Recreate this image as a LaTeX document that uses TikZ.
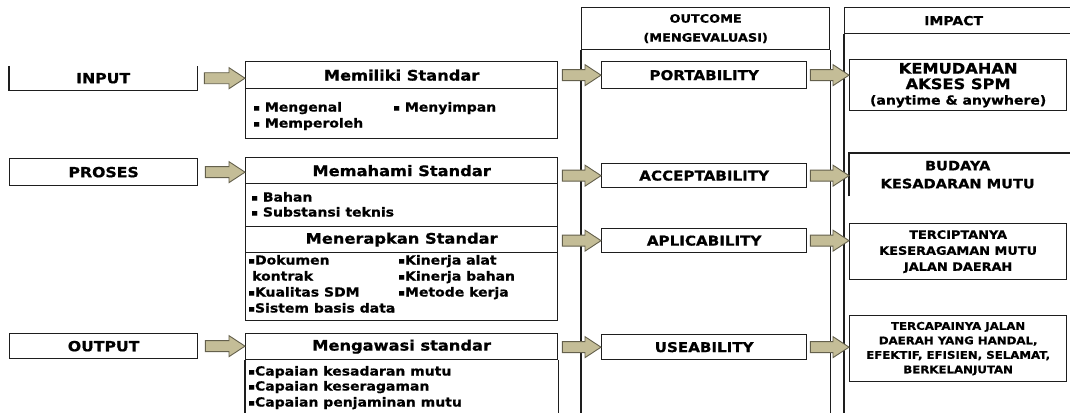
\documentclass[tikz,border=0pt]{standalone}
\usepackage{fontspec}
\setmainfont{DejaVu Sans}[FakeStretch=1.12, BoldFeatures={FakeBold=0.8}]
\usetikzlibrary{calc}
\definecolor{arrfill}{RGB}{196,189,151}
\definecolor{arredge}{RGB}{100,96,76}
\definecolor{ln}{RGB}{30,30,30}
\newcommand\sqb{{\fontsize{9}{9}\selectfont\raisebox{0.8pt}{▪}}}
\begin{document}
\begin{tikzpicture}[x=1pt,y=-1pt,
  box/.style={draw=ln, line width=1.3pt, inner sep=0pt, anchor=north west},
  nobox/.style={inner sep=0pt, anchor=north west},
  hdr/.style={font=\fontsize{14.5}{17}\selectfont\bfseries},
  lbl/.style={font=\fontsize{14}{17}\selectfont\bfseries},
  qual/.style={font=\fontsize{13.5}{16}\selectfont\bfseries},
  item/.style={inner sep=0pt, anchor=base west, font=\fontsize{12.5}{15}\selectfont\bfseries},
  barrow/.style={draw=arredge, fill=arrfill, line width=0.9pt, line join=miter,
    to path={let \p1=(\tikztostart), \p2=(\tikztotarget) in
      (\x1,\y1+5.5pt) -- (\x2-16pt,\y1+5.5pt) -- (\x2-16pt,\y1+10.5pt) -- (\x2,\y1)
      -- (\x2-16pt,\y1-10.5pt) -- (\x2-16pt,\y1-5.5pt) -- (\x1,\y1-5.5pt) -- cycle}}
]
\useasboundingbox (0,0) rectangle (1070,412);
\fill[white] (0,0) rectangle (1070,412);

% ---------- column frames ----------
\node[box, minimum width=248pt, minimum height=42pt, align=center,
      font=\fontsize{11.5}{19}\selectfont\bfseries] (outhead) at (581,7) {OUTCOME\\(MENGEVALUASI)};
\draw[ln, line width=1.3pt] (outhead.south west) -- ++(0,370);
\draw[ln, line width=1.3pt] (outhead.south east) -- ++(0,370);
\node[box, minimum width=230pt, minimum height=26pt,
      font=\fontsize{12.5}{15}\selectfont\bfseries] (imphead) at (844,7) {\hspace*{-12pt}IMPACT};
\draw[ln, line width=1.3pt] (imphead.south west) -- ++(0,385);

% ---------- left labels ----------
\node[nobox, lbl, minimum width=188pt, minimum height=24pt] (inbox) at (9,66) {INPUT};
\draw[ln, line width=1.3pt] (inbox.north west) -- (inbox.south west) -- (inbox.south east) -- (inbox.north east);
\node[box, lbl, minimum width=188pt, minimum height=27pt] (probox) at (9,158) {PROSES};
\node[box, lbl, minimum width=188pt, minimum height=25pt] (outbox) at (9,333) {OUTPUT};

% ---------- middle boxes ----------
\node[box, hdr, minimum width=312pt, minimum height=27pt] (memhead) at (245,61) {Memiliki Standar};
\node[box, minimum width=312pt, minimum height=50pt] (memitems) at (245,88) {};
\node[item] (m1) at (253,111.5) {\sqb\ Mengenal};
\node[item] (m2) at (253,127.5) {\sqb\ Memperoleh};
\node[item] (m3) at (393,111.5) {\sqb\ Menyimpan};

\node[box, hdr, minimum width=312pt, minimum height=26pt] (mmhead) at (245,157) {Memahami Standar};
\node[box, minimum width=312pt, minimum height=43pt] (mmitems) at (245,183) {};
\node[item] (b1) at (251,201.5) {\sqb\ Bahan};
\node[item] (b2) at (251,216.5) {\sqb\ Substansi teknis};

\node[box, hdr, minimum width=312pt, minimum height=26pt] (mrhead) at (245,226) {Menerapkan Standar};
\node[box, minimum width=312pt, minimum height=68pt] (mritems) at (245,252) {};
\node[item] (r1) at (248,264.5) {\sqb Dokumen};
\node[item] (r2) at (252,280.5) {kontrak};
\node[item] (r3) at (248,296.5) {\sqb Kualitas SDM};
\node[item] (r4) at (248,312.5) {\sqb Sistem basis data};
\node[item] (r5) at (398,264.5) {\sqb Kinerja alat};
\node[item] (r6) at (398,280.5) {\sqb Kinerja bahan};
\node[item] (r7) at (398,296.5) {\sqb Metode kerja};

\node[box, hdr, minimum width=312pt, minimum height=26pt] (mwhead) at (245,333) {Mengawasi standar};
\draw[ln, line width=1.3pt] (mwhead.south west) -- ++(0,60);
\draw[ln, line width=1.3pt] (mwhead.south east) -- ++(0,60);
\node[item] (w1) at (248,375.5) {\sqb Capaian kesadaran mutu};
\node[item] (w2) at (248,390.5) {\sqb Capaian keseragaman};
\node[item] (w3) at (248,406.5) {\sqb Capaian penjaminan mutu};

% ---------- outcome boxes ----------
\node[box, qual, minimum width=205pt, minimum height=27pt] (port) at (601,61) {PORTABILITY};
\node[box, qual, minimum width=205pt, minimum height=24pt] (acc) at (601,163) {ACCEPTABILITY};
\node[box, qual, minimum width=205pt, minimum height=24pt] (apl) at (601,228) {APLICABILITY};
\node[box, qual, minimum width=205pt, minimum height=25pt] (use) at (601,334) {USEABILITY};

% ---------- impact boxes ----------
\node[box, minimum width=217pt, minimum height=51pt, align=center,
      font=\fontsize{14.5}{15.5}\selectfont\bfseries] (kem) at (849,59)
      {KEMUDAHAN\\AKSES SPM\\{\fontsize{12.5}{16}\selectfont (anytime \& anywhere)}};
\node[nobox, minimum width=217pt, minimum height=43pt, align=center,
      font=\fontsize{13}{18}\selectfont\bfseries] (bud) at (849,153) {BUDAYA\\KESADARAN MUTU};
\draw[ln, line width=1.3pt] (bud.south west) -- (bud.north west) -- (1070,153);
\node[box, minimum width=217pt, minimum height=56pt, align=center,
      font=\fontsize{11.5}{16}\selectfont\bfseries] (ter) at (849,223)
      {TERCIPTANYA\\KESERAGAMAN MUTU\\JALAN DAERAH};
\node[box, minimum width=217pt, minimum height=66pt, align=center,
      font=\fontsize{10.5}{14.5}\selectfont\bfseries] (tca) at (849,315)
      {TERCAPAINYA JALAN\\DAERAH YANG HANDAL,\\EFEKTIF, EFISIEN, SELAMAT,\\BERKELANJUTAN};

% ---------- arrows ----------
\draw[barrow] ([xshift=7pt]inbox.east) to (inbox.east -| memhead.west);
\draw[barrow] ([xshift=7pt]probox.east) to (probox.east -| mmhead.west);
\draw[barrow] ([xshift=7pt]outbox.east) to (outbox.east -| mwhead.west);

\draw[barrow] ([xshift=4pt]memhead.east |- port.west) to (port.west);
\draw[barrow] ([xshift=4pt]mmhead.east |- acc.west) to (acc.west);
\draw[barrow] ([xshift=4pt]mrhead.east |- apl.west) to (apl.west);
\draw[barrow] ([xshift=4pt]mwhead.east |- use.west) to (use.west);

\draw[barrow] ([xshift=3pt]port.east) to (port.east -| kem.west);
\draw[barrow] ([xshift=3pt]acc.east) to (acc.east -| bud.west);
\draw[barrow] ([xshift=3pt]apl.east) to (apl.east -| ter.west);
\draw[barrow] ([xshift=3pt]use.east) to (use.east -| tca.west);
\end{tikzpicture}
\end{document}
